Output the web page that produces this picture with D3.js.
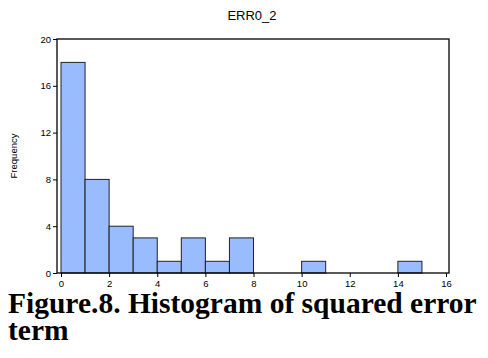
<!DOCTYPE html>
<meta charset="utf-8">
<style>
  body { margin: 0; background: #fff; }
  svg text { font-family: Arial, "Liberation Sans", sans-serif; }
</style>
<body>
<svg width="488" height="358"></svg>
<script src="https://cdn.jsdelivr.net/npm/d3@7/dist/d3.min.js"></script>
<script>

// histogram bins (lower edge, upper edge, count)
var binStart = [0, 1, 2, 3, 4, 5, 6, 7, 10, 14];
var binEnd   = [1, 2, 3, 4, 5, 6, 7, 8, 11, 15];
var counts   = [18, 8, 4, 3, 1, 3, 1, 3, 1, 1];
var xTicks = [0, 2, 4, 6, 8, 10, 12, 14, 16];
var yTicks = [0, 4, 8, 12, 16, 20];

var svg = d3.select("svg");

var box = {left: 57, top: 39, right: 449, bottom: 273};

var x = d3.scaleLinear().domain([0, 16]).range([61, 446]);
var y = d3.scaleLinear().domain([0, 20]).range([box.bottom, box.top]);

// chart title
svg.append("text")
    .attr("x", 252).attr("y", 20)
    .attr("text-anchor", "middle")
    .attr("font-size", 13)
    .text("ERR0_2");

// bars
svg.append("g").selectAll("rect")
    .data(counts)
    .enter().append("rect")
    .attr("x", function(d, i) { return x(binStart[i]); })
    .attr("y", function(d) { return y(d); })
    .attr("width", function(d, i) { return x(binEnd[i]) - x(binStart[i]); })
    .attr("height", function(d) { return y(0) - y(d); })
    .attr("fill", "#99bbff")
    .attr("stroke", "#222")
    .attr("stroke-width", 1);

// frame
svg.append("rect")
    .attr("x", box.left).attr("y", box.top)
    .attr("width", box.right - box.left)
    .attr("height", box.bottom - box.top)
    .attr("fill", "none")
    .attr("stroke", "#000")
    .attr("stroke-width", 1.3);

// Y axis
var yAxis = svg.append("g")
    .attr("transform", "translate(" + box.left + ",0)")
    .call(d3.axisLeft(y).tickValues(yTicks).tickSize(4).tickPadding(2));
yAxis.select(".domain").remove();
yAxis.selectAll("text").attr("font-size", 9.5).attr("font-family", "Arial, sans-serif");

// X axis
var xAxis = svg.append("g")
    .attr("transform", "translate(0," + box.bottom + ")")
    .call(d3.axisBottom(x).tickValues(xTicks).tickSize(4).tickPadding(3));
xAxis.select(".domain").remove();
xAxis.selectAll("text").attr("font-size", 9.5).attr("font-family", "Arial, sans-serif");

// y label
svg.append("text")
    .attr("transform", "translate(17,156) rotate(-90)")
    .attr("text-anchor", "middle")
    .attr("font-size", 9.5)
    .text("Frequency");

// caption below the chart
svg.append("text")
    .attr("x", 8).attr("y", 313)
    .style("font-family", "'Liberation Serif', 'Times New Roman', serif")
    .attr("font-weight", "bold")
    .attr("font-size", 29.5)
    .text("Figure.8. Histogram of squared error");
svg.append("text")
    .attr("x", 8).attr("y", 340)
    .style("font-family", "'Liberation Serif', 'Times New Roman', serif")
    .attr("font-weight", "bold")
    .attr("font-size", 29.5)
    .text("term");

</script>
</body>
